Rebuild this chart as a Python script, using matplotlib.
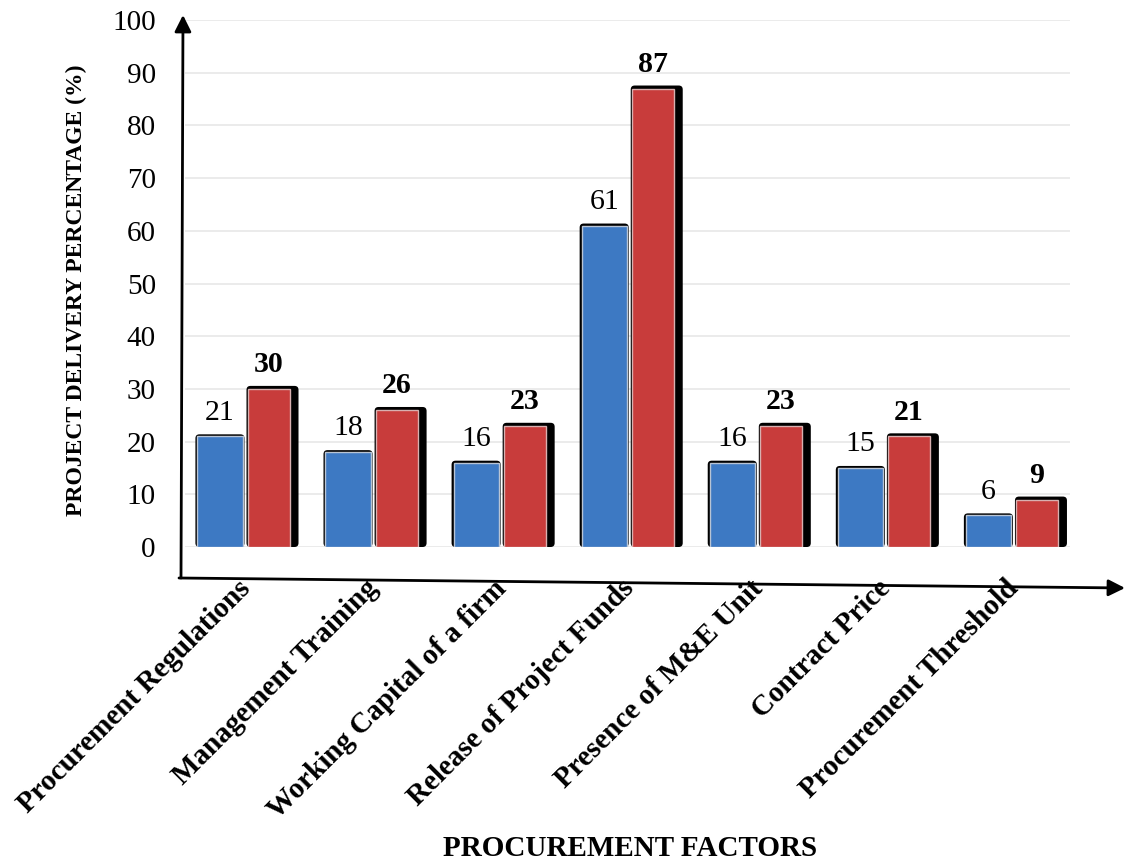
import matplotlib.pyplot as plt
import matplotlib.patches as patches
import matplotlib.transforms as mtransforms

# Procurement factors and delivery percentages (two series per factor)
factors = ['Procurement Regulations', 'Management Training',
           'Working Capital of a firm', 'Release of Project Funds',
           'Presence of M&E Unit', 'Contract Price', 'Procurement Threshold']
series_blue = [21, 18, 16, 61, 16, 15, 6]
series_red = [30, 26, 23, 87, 23, 21, 9]
y_ticks = list(range(0, 101, 10))

BLUE = '#3D79C3'
RED = '#C83C3B'

plt.rcParams['font.family'] = ['Liberation Serif', 'DejaVu Serif']

W, H = 1126, 863
fig = plt.figure(figsize=(W / 100, H / 100), dpi=100)
ax = fig.add_axes([185 / W, 1 - 547 / H, (1070 - 185) / W, (547 - 20) / H])
ax.set_xlim(-0.48, 6.43)
ax.set_ylim(0, 100)
for s in ax.spines.values():
    s.set_visible(False)

ax.set_yticks(y_ticks)
ax.set_yticklabels([str(v) for v in y_ticks], fontsize=21)
ax.tick_params(axis='y', length=0, pad=21)
ax.grid(axis='y', color='#e8e8e8', lw=1.2, zorder=0)
ax.set_axisbelow(True)

# pixel -> data conversion for the shadow offsets
px_x = (6.43 + 0.48) / (1070 - 185)
px_y = 100 / (547 - 20)
aspect = px_y / px_x

blue_c, blue_w = -0.207, 0.352
red_c, red_w = 0.172, 0.328


def shadow(x0, x1, top, dl, dr, dt):
    box = patches.FancyBboxPatch(
        (x0 - dl * px_x, 0), (x1 - x0) + (dl + dr) * px_x, top + dt * px_y,
        boxstyle='round,pad=0,rounding_size=%f' % (4 * px_x),
        mutation_aspect=aspect, facecolor='black', edgecolor='none',
        zorder=2)
    ax.add_patch(box)


for i, (b, r) in enumerate(zip(series_blue, series_red)):
    bx0 = i + blue_c - blue_w / 2
    rx0 = i + red_c - red_w / 2
    shadow(bx0, bx0 + blue_w, b, 2, 2, 2)
    shadow(rx0, rx0 + red_w, r, 1, 9, 3)

ax.bar([i + blue_c for i in range(len(factors))], series_blue, blue_w,
       color=BLUE, edgecolor='#b8c4d4', lw=1, zorder=3)
ax.bar([i + red_c for i in range(len(factors))], series_red, red_w,
       color=RED, edgecolor='#d8b0b0', lw=1, zorder=3)

for i, (b, r) in enumerate(zip(series_blue, series_red)):
    ax.annotate(str(b), (i + blue_c, b), xytext=(0, 12),
                textcoords='offset points', ha='center', va='baseline',
                fontsize=21.5)
    ax.annotate(str(r), (i + red_c, r), xytext=(0, 12),
                textcoords='offset points', ha='center', va='baseline',
                fontsize=21.5, fontweight='bold')

ax.set_xticks(range(len(factors)))
ax.set_xticklabels(factors, rotation=45, ha='right', rotation_mode='anchor',
                   fontsize=21, fontweight='bold')
ax.tick_params(axis='x', length=0, pad=20)
# nudge the slanted labels a little to the left
nudge = mtransforms.ScaledTranslation(-10 / 100, 0, fig.dpi_scale_trans)
for lbl in ax.get_xticklabels():
    lbl.set_transform(lbl.get_transform() + nudge)

# hand-drawn style axes with arrow heads
ax.annotate('', xy=(183, H - 15), xytext=(181, H - 578),
            xycoords='figure pixels', textcoords='figure pixels',
            arrowprops=dict(arrowstyle='-|>', color='black', lw=2,
                            mutation_scale=25, shrinkA=0, shrinkB=0))
ax.annotate('', xy=(1125, H - 588), xytext=(179, H - 578),
            xycoords='figure pixels', textcoords='figure pixels',
            arrowprops=dict(arrowstyle='-|>', color='black', lw=2,
                            mutation_scale=25, shrinkA=0, shrinkB=0))

fig.text(76 / W, 1 - 290 / H, 'PROJECT DELIVERY PERCENTAGE (%)',
         rotation=90, ha='center', va='center', fontsize=17,
         fontweight='bold')
fig.text(630 / W, 1 - 848 / H, 'PROCUREMENT FACTORS', ha='center',
         va='center', fontsize=21, fontweight='bold')

fig.savefig('out.png', dpi=100, facecolor='white')
